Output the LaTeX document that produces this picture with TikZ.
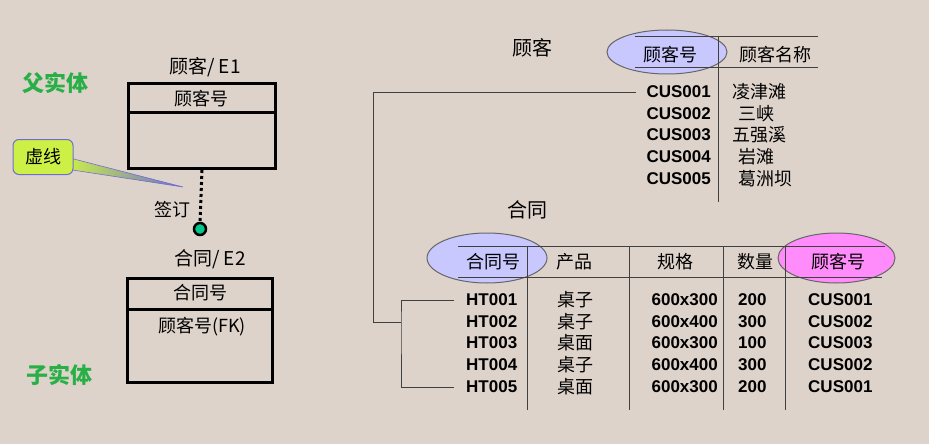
\documentclass[tikz,border=0pt]{standalone}
\usepackage{fontspec}
\setmainfont{Liberation Sans}
\newfontfamily\cjk{Noto Sans CJK SC}
\usepackage{xcolor}
\definecolor{bgc}{RGB}{222,211,203}
\definecolor{grn}{RGB}{40,175,70}
\definecolor{keyblue}{RGB}{200,200,255}
\definecolor{keypink}{RGB}{255,140,250}
\definecolor{notefill}{RGB}{205,240,70}
\definecolor{noteline}{RGB}{110,110,210}
\definecolor{dotfill}{RGB}{0,200,140}

\begin{document}
\begin{tikzpicture}[x=1pt,y=-1pt,
	cn/.style={font=\cjk\fontsize{18}{18}\selectfont, inner sep=0pt},
	bd/.style={font=\bfseries\fontsize{17}{17}\selectfont, inner sep=0pt},
	tl/.style={draw=black!75, line width=1pt},
	ent/.style={draw, line width=3pt, inner sep=0pt},
	lbl/.style={font=\cjk\bfseries\fontsize{22}{22}\selectfont, text=grn, inner sep=0pt}]
	\fill[bgc] (0,0) rectangle (929,444);
	\useasboundingbox (0,0) rectangle (929,444);
	% entities on the left
	\node[lbl] (fa) at (56,83) {父实体};
	\node[lbl] (ch) at (60,375) {子实体};
	\node[cn, font=\cjk\fontsize{19}{19}\selectfont] (t1) at (205,67) {顾客/ E1};
	\node[ent, minimum width=147, minimum height=85] (e1) at (202,126) {};
	\draw[line width=3pt] (e1.west |- 0,112) -- (e1.east |- 0,112);
	\node[cn] at (201,99) {顾客号};
	\node[cn, font=\cjk\fontsize{19}{19}\selectfont] (t2) at (210,259) {合同/ E2};
	\node[ent, minimum width=145, minimum height=104] (e2) at (200,330.5) {};
	\draw[line width=3pt] (e2.west |- 0,309) -- (e2.east |- 0,309);
	\node[cn] at (200,293) {合同号};
	\node[cn] at (202,327) {顾客号(FK)};
	\node[circle, draw, line width=2.5pt, fill=dotfill, minimum size=12, inner sep=0pt] (dot) at (200,229) {};
	\draw[line width=3pt, dash pattern=on 3pt off 3pt] (e1.south) -- (dot.north);
	\node[cn] (sg) at (172,210) {签订};
	% callout
	\coordinate (tip) at (183,187);
	\shade[left color=notefill, right color=noteline, draw=noteline, line width=0.6pt] (66,157) -- (tip) -- (66,169) -- cycle;
	\node[cn, draw=noteline, line width=1pt, fill=notefill, rounded corners=6, minimum width=60, minimum height=35] (note) at (43,157) {虚线};
	% customer table
	\node[cn, font=\cjk\fontsize{20}{20}\selectfont] (tc) at (532,48) {顾客};
	\draw[fill=keyblue, draw=black!60, line width=1pt] (667,52) ellipse [x radius=60, y radius=22];
	\draw[tl] (635,37) -- (818,37);
	\draw[tl] (635,68) -- (818,68);
	\draw[tl] (718,37) -- (718,202);
	\node[cn] at (670,55) {顾客号};
	\node[cn] at (775,55) {顾客名称};
	\foreach \i/\y/\n/\xx in {1/92/凌津滩/732,2/113.5/三峡/738,3/135/五强溪/732,4/157/岩滩/738,5/179/葛洲坝/738}{
		\node[bd, anchor=east] (c\i) at (711,\y) {CUS00\i};
		\node[cn, anchor=west] (n\i) at (\xx,\y) {\n};
	}
	% contract table
	\node[cn, font=\cjk\fontsize{20}{20}\selectfont] (th) at (527,210) {合同};
	\draw[fill=keyblue, draw=black!60, line width=1pt] (487,258) ellipse [x radius=60, y radius=25];
	\draw[fill=keypink, draw=black!60, line width=1pt] (836.5,258) ellipse [x radius=58.5, y radius=25];
	\draw[tl] (458,246) -- (885,246);
	\draw[tl] (458,277) -- (882,277);
	\foreach \x in {527,629,723,785}
		\draw[tl] (\x,246) -- (\x,410);
	\node[cn] at (493,262) {合同号};
	\node[cn] at (574,262) {产品};
	\node[cn] at (675,262) {规格};
	\node[cn] at (755,262) {数量};
	\node[cn] at (838,262) {顾客号};
	\foreach \i/\y/\p/\s/\q/\c in {1/300/桌子/600x300/200/1,2/321.5/桌子/600x400/300/2,3/343/桌面/600x300/100/3,4/365/桌子/600x400/300/2,5/387/桌面/600x300/200/1}{
		\node[bd, anchor=west] (h\i) at (466,\y) {HT00\i};
		\node[cn, anchor=west] (p\i) at (557,\y) {\p};
		\node[bd, anchor=east] (s\i) at (718,\y) {\s};
		\node[bd, anchor=west] (q\i) at (738,\y) {\q};
		\node[bd, anchor=west] (k\i) at (808,\y) {CUS00\c};
	}
	% link between the tables
	\coordinate (jn) at (401,322);
	\draw[tl] ([xshift=-10]c1.west) -| (373,322) -- (jn);
	\draw[tl] ([xshift=-12]h1.west) -| (jn) |- ([xshift=-12]h5.west);
\end{tikzpicture}
\end{document}
